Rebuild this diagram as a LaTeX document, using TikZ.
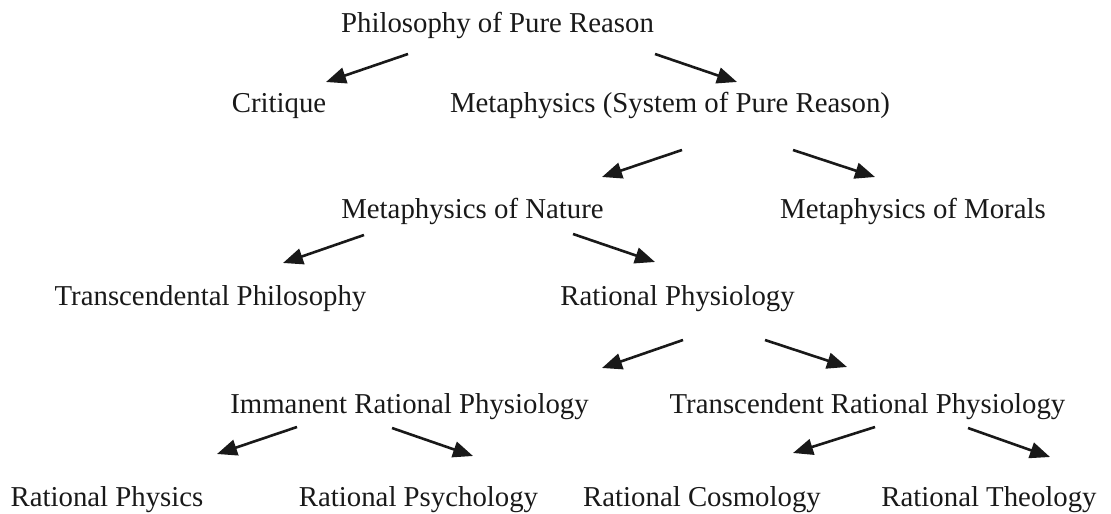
\documentclass[tikz,border=0pt]{standalone}
\usepackage{fontspec}
\setmainfont{Liberation Serif}
\usetikzlibrary{arrows.meta}
\begin{document}
\begin{tikzpicture}[x=0.5pt,y=-0.5pt,
  lbl/.style={anchor=base, inner sep=0pt, font=\fontsize{14.4pt}{17pt}\selectfont, text=black!90},
  arr/.style={line width=1.3pt, black!90, -{Triangle[length=10pt,width=8pt]}}]
\useasboundingbox (0,0) rectangle (1111,513);
% texts
\node[lbl] (ppr)  at (497.5,33)  {Philosophy of Pure Reason};
\node[lbl] (crit) at (279,113)   {Critique};
\node[lbl] (meta) at (670,113)   {Metaphysics (System of Pure Reason)};
\node[lbl] (nat)  at (472.5,218) {Metaphysics of Nature};
\node[lbl] (mor)  at (913,218)   {Metaphysics of Morals};
\node[lbl] (tph)  at (210.5,305) {Transcendental Philosophy};
\node[lbl] (rph)  at (677.5,305) {Rational Physiology};
\node[lbl] (imm)  at (409.5,413) {Immanent Rational Physiology};
\node[lbl] (trp)  at (867.5,413) {Transcendent Rational Physiology};
\node[lbl] (phys) at (107,506)   {Rational Physics};
\node[lbl] (psy)  at (418.5,506) {Rational Psychology};
\node[lbl] (cos)  at (702,506)   {Rational Cosmology};
\node[lbl] (the)  at (989,506)   {Rational Theology};
% arrow ends
\coordinate (a1s) at (408,54);  \coordinate (a1e) at (326,82);
\coordinate (a2s) at (655,54);  \coordinate (a2e) at (737,82);
\coordinate (a3s) at (682,150); \coordinate (a3e) at (602,177);
\coordinate (a4s) at (793,150); \coordinate (a4e) at (875,177);
\coordinate (a5s) at (364,235); \coordinate (a5e) at (283,263);
\coordinate (a6s) at (573,234); \coordinate (a6e) at (655,262);
\coordinate (a7s) at (683,340); \coordinate (a7e) at (602,368);
\coordinate (a8s) at (765,340); \coordinate (a8e) at (847,367);
\coordinate (a9s) at (297,427); \coordinate (a9e) at (217,454);
\coordinate (a10s) at (392,428); \coordinate (a10e) at (473,456);
\coordinate (a11s) at (875,427); \coordinate (a11e) at (793,453);
\coordinate (a12s) at (968,428); \coordinate (a12e) at (1050,457);
\foreach \i in {1,...,12} { \draw[arr] (a\i s) -- (a\i e); }
\end{tikzpicture}
\end{document}
